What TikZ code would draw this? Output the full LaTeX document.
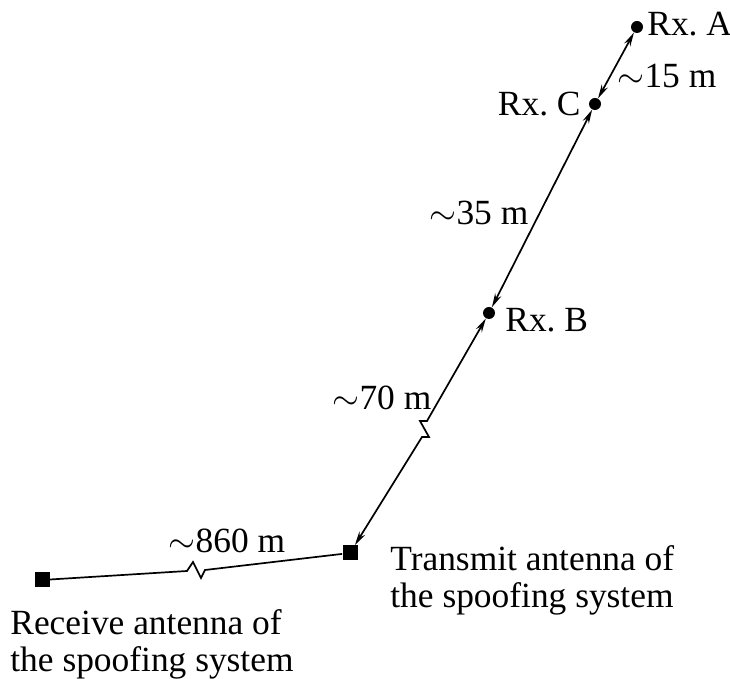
\documentclass[tikz,border=0pt]{standalone}
\usepackage{fontspec}
\setmainfont{Liberation Serif}
\usepackage{tikz}
\usetikzlibrary{arrows.meta}
\frenchspacing

\begin{document}
\begin{tikzpicture}[x=0.5pt, y=-0.5pt,
    every node/.style={font=\fontsize{17.7}{18.6}\selectfont, inner sep=0pt},
    rxdot/.style={circle, fill=black, minimum size=6pt},
    antbox/.style={rectangle, fill=black, minimum size=7.5pt},
    dist/.style={line width=0.85pt, {Stealth[length=7pt, width=3.4pt]}-{Stealth[length=7pt, width=3.4pt]}}]
  \useasboundingbox (0,0) rectangle (730,679);
  % receivers
  \node[rxdot] (rxa) at (637,27) {};
  \node[rxdot] (rxc) at (595,104) {};
  \node[rxdot] (rxb) at (489,313) {};
  \node[anchor=west] (la) at (647,24) {Rx. A};
  \node[anchor=east] (lc) at (581,104) {Rx. C};
  \node[anchor=west] (lb) at (505,320) {Rx. B};
  % antennas
  \node[antbox] (tx) at (350,553) {};
  \node[antbox] (rx) at (42,580) {};
  \node[anchor=north west, align=left] (ltx) at (390,545) {Transmit antenna of\\the spoofing system};
  \node[anchor=north west, align=left] (lrx) at (10,609) {Receive antenna of\\the spoofing system};
  % distances
  \draw[dist] (rxa) -- (rxc);
  \draw[dist] (rxc) -- (rxb);
  \draw[dist] (rxb) -- (427,421) -- (420,421) -- (429,437) -- (422,437) -- (tx);
  \draw[line width=0.85pt] (rx) -- (187,571) -- (193,562) -- (201,578) -- (205,570) -- (tx);
  \node (d15) at (667,76) {$\sim$15 m};
  \node (d35) at (479,213) {$\sim$35 m};
  \node (d70) at (382,398) {$\sim$70 m};
  \node (d860) at (227,541) {$\sim$860 m};
\end{tikzpicture}
\end{document}
